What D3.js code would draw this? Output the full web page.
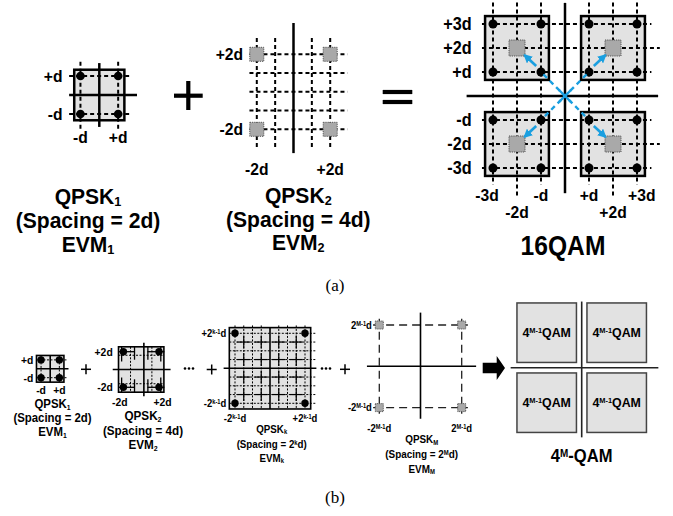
<!DOCTYPE html>
<html><head><meta charset="utf-8">
<script src="https://cdn.jsdelivr.net/npm/d3@7"></script>
<style>
html,body{margin:0;padding:0;background:#fff;}
svg{display:block;}
text{font-family:"Liberation Sans",Arial,Helvetica,sans-serif;font-weight:bold;fill:#000;}
</style></head><body>
<svg id="c" width="673" height="516"></svg>
<script>
// ---------------- data ----------------
const qpsk1Points = [[-1,1],[1,1],[-1,-1],[1,-1]];
const qpsk1Ticks = [-1,1];
const qpsk1TickLabels = ["-d","+d"];
const qpsk1YTickLabels = ["-d","+d"];

const qpsk2Points = [[-2,2],[2,2],[-2,-2],[2,-2]];
const qpsk2Ticks = [-2,2];
const qpsk2TickLabels = ["-2d","+2d"];
const qpsk2GridRows = [-2,-1,0,1,2];
const qpsk2GridCols = [-2,-1,1,2];

const qam16Points = [[-3,3],[-1,3],[1,3],[3,3],[-3,1],[-1,1],[1,1],[3,1],
                     [-3,-1],[-1,-1],[1,-1],[3,-1],[-3,-3],[-1,-3],[1,-3],[3,-3]];
const qam16Centers = [[-2,2],[2,2],[-2,-2],[2,-2]];
const qam16Ticks = [-3,-2,-1,1,2,3];
const qam16TickLabels = ["-3d","-2d","-d","+d","+2d","+3d"];

const qpskKPoints = [[-4,4],[4,4],[-4,-4],[4,-4]];
const qpskKTicks = [-4,4];
const qpskKTickLabels = ["-2^{k-1}d","+2^{k-1}d"];
const qpskKGrid = [-4,-3,-2,-1,1,2,3,4];
const qpskKMarks = [[-3,3],[-1,3],[1,3],[3,3],[-3,1],[-1,1],[1,1],[3,1],
                    [-3,-1],[-1,-1],[1,-1],[3,-1],[-3,-3],[-1,-3],[1,-3],[3,-3]];

const qpskMPoints = [[-1,1],[1,1],[-1,-1],[1,-1]];
const qpskMTicks = [-1,1];
const qpskMXTickLabels = ["-2^{M-1}d","2^{M-1}d"];
const qpskMYTickLabels = ["-2^{M-1}d","2^{M-1}d"];

const qamMBlocks = [[-1,1],[1,1],[-1,-1],[1,-1]];
const qamMBlockLabel = "4^{M-1}QAM";

const titlesA1 = ["QPSK_{1}","(Spacing = 2d)","EVM_{1}"];
const titlesA2 = ["QPSK_{2}","(Spacing = 4d)","EVM_{2}"];
const titleA3 = "16QAM";
const titlesB1 = ["QPSK_{1}","(Spacing = 2d)","EVM_{1}"];
const titlesB2 = ["QPSK_{2}","(Spacing = 4d)","EVM_{2}"];
const titlesBK = ["QPSK_{k}","(Spacing = 2^{k}d)","EVM_{k}"];
const titlesBM = ["QPSK_{M}","(Spacing = 2^{M}d)","EVM_{M}"];
const titleBR = "4^{M}-QAM";
const captions = ["(a)","(b)"];

// ---------------- helpers ----------------
const svg = d3.select("#c");
const BLUE = "#1a9fe0";
svg.append("defs").append("marker")
  .attr("id","ah").attr("viewBox","0 0 10 10").attr("refX",8).attr("refY",5)
  .attr("markerWidth",3.4).attr("markerHeight",3.4).attr("orient","auto")
  .append("path").attr("d","M0,0L10,5L0,10z").attr("fill",BLUE);

function scales(cx, cy, ux, uy) {
  return {
    x: d3.scaleLinear().domain([0,1]).range([cx, cx+ux]),
    y: d3.scaleLinear().domain([0,1]).range([cy, cy-uy])
  };
}
function rich(g, x, cy, str, fs, opt={}) {
  const t = g.append("text").attr("x", x).attr("y", cy + (opt.base ?? 0.36)*fs)
    .attr("font-size", fs).attr("text-anchor", opt.anchor || "middle");
  if (opt.family) t.style("font-family", opt.family);
  if (opt.weight) t.style("font-weight", opt.weight);
  const parts = str.split(/(_\{[^}]*\}|\^\{[^}]*\})/).filter(s => s.length);
  let shift = 0;
  parts.forEach(p => {
    let kind = "n", s = p;
    if (p.startsWith("_{")) { kind = "sub"; s = p.slice(2,-1); }
    else if (p.startsWith("^{")) { kind = "sup"; s = p.slice(2,-1); }
    const target = kind === "sub" ? 0.1*fs : kind === "sup" ? -0.3*fs : 0;
    const ts = t.append("tspan").text(s);
    if (target - shift !== 0) ts.attr("dy", target - shift);
    if (kind !== "n") ts.attr("font-size", 0.6*fs);
    shift = target;
  });
  const cond = opt.cond ?? 1;
  if (cond !== 1) {
    const L = t.node().getComputedTextLength();
    t.attr("textLength", L*cond).attr("lengthAdjust","spacingAndGlyphs");
  }
  return t;
}
function line(g, x1, y1, x2, y2, sw, dash, color) {
  const l = g.append("line").attr("x1",x1).attr("y1",y1).attr("x2",x2).attr("y2",y2)
    .attr("stroke", color || "#000").attr("stroke-width", sw);
  if (dash) l.attr("stroke-dasharray", dash);
  return l;
}
function box(g, S, c, half, sw, stroke, fill) {
  g.append("rect").attr("x", S.x(c[0]-half)).attr("y", S.y(c[1]+half))
    .attr("width", S.x(c[0]+half)-S.x(c[0]-half)).attr("height", S.y(c[1]-half)-S.y(c[1]+half))
    .attr("fill", fill || "#e2e2e2").attr("stroke", stroke || "#000").attr("stroke-width", sw);
}
function graySquares(g, S, pts, size, dash) {
  g.selectAll(null).data(pts).join("rect")
    .attr("x", d => S.x(d[0]) - size/2).attr("y", d => S.y(d[1]) - size/2)
    .attr("width", size).attr("height", size)
    .attr("fill","#a9a9a9").attr("stroke","#555").attr("stroke-width",1)
    .attr("stroke-dasharray", dash || "1.2,1");
}
function dots(g, S, pts, r) {
  g.selectAll(null).data(pts).join("circle")
    .attr("cx", d => S.x(d[0])).attr("cy", d => S.y(d[1])).attr("r", r).attr("fill","#000");
}
function titles(g, x, ys, arr, fs, cond) {
  arr.forEach((s,i) => rich(g, x, ys[i], s, fs, {cond}));
}

// ================= Panel (a) =================
const A = svg.append("g");
// QPSK1
{
  const S = scales(99.3, 95, 18.85, 19);
  box(A, S, [0,0], 1.33, 2.5);
  qpsk1Ticks.forEach(v => {
    line(A, S.x(-1.6), S.y(v), S.x(1.7), S.y(v), 2, "4,3");
    line(A, S.x(v), S.y(1.75), S.x(v), S.y(-1.85), 2, "4,3");
  });
  line(A, S.x(-1.6), S.y(0), S.x(2.0), S.y(0), 2.5);
  line(A, S.x(0), S.y(1.68), S.x(0), S.y(-1.68), 2.5);
  dots(A, S, qpsk1Points, 4.3);
  qpsk1Ticks.forEach((v,i) => {
    rich(A, S.x(-1.95), S.y(v), qpsk1YTickLabels[i], 17, {anchor:"end", cond:0.92});
    rich(A, S.x(v), S.y(-2.2), qpsk1TickLabels[i], 17, {cond:0.92});
  });
  titles(A, 88, [196.5, 220.5, 244], titlesA1, 21.5, 0.98);
}
// plus
line(A, 174, 95.7, 202.7, 95.7, 4.2);
line(A, 188.3, 81, 188.3, 110, 4.2);
// QPSK2
{
  const S = scales(293.5, 91.8, 18.35, 18.75);
  qpsk2GridRows.forEach(v => line(A, S.x(-2.4), S.y(v), S.x(2.95), S.y(v), 2, "4,3"));
  qpsk2GridCols.forEach(v => line(A, S.x(v), S.y(2.87), S.x(v), S.y(-3.0), 2, "4,3"));
  line(A, S.x(0), S.y(3.67), S.x(0), S.y(-3.27), 2.5);
  graySquares(A, S, qpsk2Points, 14);
  qpsk2Ticks.forEach((v,i) => {
    rich(A, S.x(-2.75), S.y(v), qpsk2TickLabels[i], 17, {anchor:"end", cond:0.92});
    rich(A, S.x(v), S.y(-4.1), qpsk2TickLabels[i], 17, {cond:0.92});
  });
  titles(A, 298.3, [195, 219, 242.5], titlesA2, 21.5, 0.98);
}
// equals
line(A, 382.7, 92, 412.3, 92, 4.2);
line(A, 382.7, 102, 412.3, 102, 4.2);
// 16QAM
{
  const S = scales(565, 96, 24, 24);
  qam16Centers.forEach(c => box(A, S, c, 1.33, 2.5));
  qam16Ticks.forEach(v => {
    const ext = Math.abs(v) === 2;
    line(A, S.x(-3.46), S.y(v), S.x(ext ? 3.95 : 3.6), S.y(v), 2, "4,3");
    line(A, S.x(v), S.y(3.9), S.x(v), S.y(ext ? -4.2 : -3.7), 2, "4,3");
  });
  line(A, S.x(0), S.y(3.88), S.x(0), S.y(-4.05), 2.5);
  line(A, S.x(-4.1), S.y(0), S.x(3.88), S.y(0), 2.5);
  graySquares(A, S, qam16Centers, 16);
  dots(A, S, qam16Points, 4.5);
  // blue diagonals and arrows
  line(A, S.x(-0.9), S.y(0.9), S.x(0.9), S.y(-0.9), 2.4, "5,4", BLUE);
  line(A, S.x(0.9), S.y(0.9), S.x(-0.9), S.y(-0.9), 2.4, "5,4", BLUE);
  line(A, S.x(-0.25), S.y(0.25), S.x(0.25), S.y(-0.25), 2.4, null, BLUE);
  line(A, S.x(0.25), S.y(0.25), S.x(-0.25), S.y(-0.25), 2.4, null, BLUE);
  qam16Centers.forEach(c => {
    const sx = Math.sign(c[0]), sy = Math.sign(c[1]);
    line(A, S.x(sx*1.2), S.y(sy*1.25), S.x(sx*1.68), S.y(sy*1.7), 2.6, null, BLUE)
      .attr("marker-end","url(#ah)");
  });
  qam16Ticks.forEach((v,i) => {
    rich(A, S.x(-3.89), S.y(v), qam16TickLabels[i], 18, {anchor:"end", cond:0.9});
    const dx = v === -3 ? -0.25 : v === 3 ? 0.2 : 0;
    rich(A, S.x(v + dx), Math.abs(v) === 2 ? S.y(-4.83) : S.y(-4.125), qam16TickLabels[i], 17, {cond:0.92});
  });
  rich(A, 563, 245, titleA3, 28, {cond:0.88});
}
rich(A, 335, 285.5, captions[0], 17, {family:'"Liberation Serif","Times New Roman",serif', weight:"normal", base:0.33});

// ================= Panel (b) =================
const B = svg.append("g");
function smallPlus(x, y) { line(B, x-5, y, x+5, y, 1.5); line(B, x, y-5, x, y+5, 1.5); }
function ellipsis(x, y) { [-4,0,4].forEach(d => B.append("circle").attr("cx", x+d).attr("cy", y).attr("r",1.3).attr("fill","#000")); }
// QPSK1 small
{
  const S = scales(50.2, 368.8, 9.15, 8.9);
  box(B, S, [0,0], 1.5, 1.6);
  qpsk1Ticks.forEach(v => {
    line(B, S.x(-1.5), S.y(v), S.x(1.9), S.y(v), 1, "2,1.5");
    line(B, S.x(v), S.y(1.5), S.x(v), S.y(-1.5), 1, "2,1.5");
  });
  line(B, S.x(-1.5), S.y(0), S.x(2.0), S.y(0), 1.6);
  line(B, S.x(0), S.y(1.5), S.x(0), S.y(-1.5), 1.6);
  dots(B, S, qpsk1Points, 3.7);
  qpsk1Ticks.forEach((v,i) => {
    rich(B, S.x(-1.85), S.y(v), qpsk1YTickLabels[i], 11.5, {anchor:"end", cond:0.9});
    rich(B, S.x(v), S.y(-2.4), qpsk1TickLabels[i], 11.5, {cond:0.9});
  });
  titles(B, 52.5, [404, 418, 432], titlesB1, 12, 0.95);
}
smallPlus(86, 369.3);
// QPSK2 small
{
  const S = scales(141.2, 369.5, 8.9, 8.9);
  box(B, S, [0,0], 2.55, 1.6);
  [-1,1].forEach(v => {
    line(B, S.x(-2.55), S.y(v*1.6), S.x(2.55), S.y(v*1.6), 1, "2,1.5");
    line(B, S.x(v*1.2), S.y(2.55), S.x(v*1.2), S.y(-2.55), 1, "2,1.5");
  });
  qpsk2Points.forEach(p => {
    const sx = Math.sign(p[0]), sy = Math.sign(p[1]);
    line(B, S.x(sx*0.7), S.y(p[1]), S.x(sx*2.6), S.y(p[1]), 1.3);
    line(B, S.x(sx*2.2), S.y(sy*0.9), S.x(sx*2.2), S.y(sy*2.55), 1.3);
    line(B, S.x(sx*0.75), S.y(sy*1.1), S.x(sx*0.75), S.y(sy*2.55), 1.3);
  });
  line(B, S.x(-3.2), S.y(0), S.x(3.3), S.y(0), 1.6);
  line(B, S.x(0.3), S.y(3.0), S.x(0.3), S.y(-3.0), 1.6);
  dots(B, S, qpsk2Points, 3.7);
  qpsk2Ticks.forEach((v,i) => {
    rich(B, S.x(-3.2), S.y(v), qpsk2TickLabels[i], 11.5, {anchor:"end", cond:0.9});
    rich(B, S.x(v*1.2), S.y(-3.6), qpsk2TickLabels[i], 11.5, {cond:0.9});
  });
  titles(B, 143, [416, 430.5, 445], titlesB2, 12.3, 0.95);
}
ellipsis(189, 368.5);
smallPlus(211.7, 369.5);
// QPSK_k
{
  const S = scales(270, 368.3, 8.75, 8.75);
  box(B, S, [0,0], 4.65, 1.6);
  qpskKGrid.forEach(v => {
    line(B, S.x(-4.65), S.y(v), S.x(5.2), S.y(v), 1, "2,1.5");
    line(B, S.x(v), S.y(4.9), S.x(v), S.y(-4.65), 1, "2,1.5");
  });
  qpskKMarks.forEach(m => {
    line(B, S.x(m[0]-0.75), S.y(m[1]), S.x(m[0]+0.75), S.y(m[1]), 1.2);
    line(B, S.x(m[0]), S.y(m[1]+0.75), S.x(m[0]), S.y(m[1]-0.75), 1.2);
  });
  line(B, S.x(-5.3), S.y(0), S.x(5.3), S.y(0), 1.6);
  line(B, S.x(0), S.y(4.65), S.x(0), S.y(-4.65), 1.6);
  dots(B, S, qpskKPoints, 3.7);
  qpskKTicks.forEach((v,i) => {
    rich(B, S.x(-5.0), S.y(v), qpskKTickLabels[i], 10.5, {anchor:"end", cond:0.9});
    rich(B, S.x(v), S.y(-5.7), qpskKTickLabels[i], 10.5, {cond:0.9});
  });
  titles(B, 271.7, [429.5, 444, 458], titlesBK, 10.6, 0.92);
}
ellipsis(326, 368.5);
smallPlus(345, 369.3);
// QPSK_M
{
  const S = scales(420.5, 366.3, 41.2, 41.3);
  qpskMTicks.forEach(v => {
    line(B, S.x(-1.15), S.y(v), S.x(1.15), S.y(v), 1.3, "8,5", "#222");
    line(B, S.x(v), S.y(1.15), S.x(v), S.y(-1.15), 1.3, "8,5", "#222");
  });
  line(B, S.x(0), S.y(1.3), S.x(0), S.y(-1.27), 1.6);
  line(B, S.x(-1.3), S.y(0), S.x(1.35), S.y(0), 1.6);
  graySquares(B, S, qpskMPoints, 8, "1,0.8");
  qpskMTicks.forEach((v,i) => {
    rich(B, S.x(-1.18), S.y(v), qpskMYTickLabels[i], 10.5, {anchor:"end", cond:0.9});
    rich(B, S.x(v), S.y(-1.5), qpskMXTickLabels[i], 10.5, {cond:0.9});
  });
  titles(B, 421.7, [439.5, 454.5, 469], titlesBM, 11, 0.9);
}
// big arrow
B.append("path").attr("d", d3.line()([[482.7,362.7],[496.7,362.7],[496.7,356],[505,368],[496.7,380],[496.7,373.3],[482.7,373.3]]) + "Z")
  .attr("fill","#000");
// 4^M-QAM
{
  const S = scales(581.7, 367.7, 35, 35);
  qamMBlocks.forEach(c => box(B, S, c, 0.85, 1.5, "#444", "#e2e2e2"));
  line(B, S.x(0), S.y(1.89), S.x(0), S.y(-1.99), 1.6, null, "#222");
  line(B, S.x(-2.03), S.y(0), S.x(2.19), S.y(0), 1.6, null, "#222");
  qamMBlocks.forEach(c => rich(B, S.x(c[0]), S.y(c[1]), qamMBlockLabel, 13, {cond:0.95}));
  rich(B, 581.7, 455.7, titleBR, 18, {cond:0.92});
}
rich(B, 335, 497, captions[1], 17, {family:'"Liberation Serif","Times New Roman",serif', weight:"normal", base:0.33});
</script></body></html>
